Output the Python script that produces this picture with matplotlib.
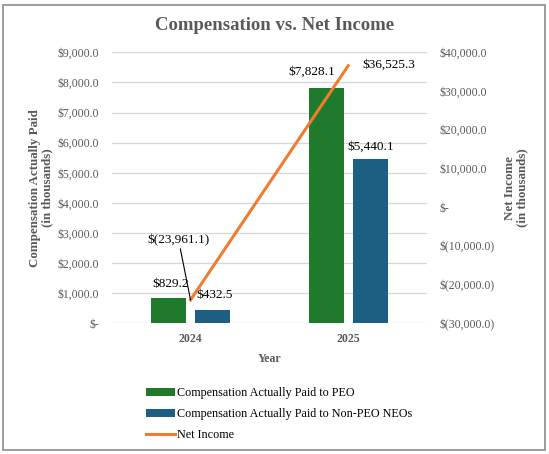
import matplotlib
matplotlib.use('Agg')
import matplotlib.pyplot as plt
from matplotlib.ticker import FuncFormatter, MultipleLocator
from matplotlib.patches import Rectangle

plt.rcParams['font.family'] = ['Liberation Serif', 'DejaVu Serif']

years = ['2024', '2025']
cap_peo = [829.2, 7828.1]
cap_neo = [432.5, 5440.1]
net_income = [-23961.1, 36525.3]

GREEN = '#1f7a2c'
BLUE = '#1c5f82'
ORANGE = '#ed7d31'
GRAY = '#595959'
GRID = '#d4d6dc'


def money(v, pos=None):
    if abs(v) < 1e-6:
        return '$-'
    if v < 0:
        return '$({:,.1f})'.format(-v)
    return '${:,.1f}'.format(v)


fig = plt.figure(figsize=(5.49, 4.54), dpi=100)
ax = fig.add_axes([0.2035, 0.2879, 0.5743, 0.5969])
ax2 = ax.twinx()

x = list(range(len(years)))
w = 0.222
off = 0.139
b1 = ax.bar([i - off for i in x], cap_peo, w, color=GREEN, label='Compensation Actually Paid to PEO', zorder=2)
b2 = ax.bar([i + off for i in x], cap_neo, w, color=BLUE, label='Compensation Actually Paid to Non-PEO NEOs', zorder=2)
ln, = ax2.plot(x, net_income, color=ORANGE, lw=2.2, label='Net Income', zorder=3)

ax.set_xlim(-0.5, 1.5)
ax.set_ylim(0, 9000)
ax2.set_ylim(-30000, 40000)
ax.yaxis.set_major_locator(MultipleLocator(1000))
ax2.yaxis.set_major_locator(MultipleLocator(10000))
ax.yaxis.set_major_formatter(FuncFormatter(money))
ax2.yaxis.set_major_formatter(FuncFormatter(money))
ax.grid(axis='y', color=GRID, lw=0.9, zorder=0)
ax.set_axisbelow(True)

for a in (ax, ax2):
    for s in a.spines.values():
        s.set_visible(False)
    a.tick_params(length=0, colors=GRAY, labelsize=8.5)

ax.tick_params(axis='y', pad=9)
ax2.tick_params(axis='y', pad=9)
ax.set_xticks(x)
ax.set_xticklabels(years, fontweight='bold', fontsize=8.6)
ax.tick_params(axis='x', pad=7)
ax.set_xlabel('Year', fontweight='bold', color=GRAY, fontsize=8.6, labelpad=6)
ax.set_ylabel('Compensation Actually Paid\n(in thousands)', fontweight='bold', color=GRAY,
              fontsize=9.4, labelpad=3, linespacing=1.0)
ax2.set_ylabel('Net Income\n(in thousands)', fontweight='bold', color=GRAY,
               fontsize=9.4, labelpad=7, linespacing=1.0)

fig.text(0.501, 1 - 25 / 454, 'Compensation vs. Net Income', ha='center', va='center',
         fontsize=13.5, fontweight='bold', color=GRAY)

# data labels
lab = dict(ha='center', va='center', fontsize=9.5, color='black', textcoords='offset pixels')
ax.annotate(money(cap_peo[0]), (x[0] - off, cap_peo[0]), xytext=(2, 14), **lab)
ax.annotate(money(cap_neo[0]), (x[0] + off, cap_neo[0]), xytext=(2, 15), **lab)
ax.annotate(money(cap_peo[1]), (x[1] - off, cap_peo[1]), xytext=(-15, 16), **lab)
ax.annotate(money(cap_neo[1]), (x[1] + off, cap_neo[1]), xytext=(1, 13), **lab)
ax2.annotate(money(net_income[1]), (x[1], net_income[1]), xytext=(41, 1), **lab)
ax2.annotate(money(net_income[0]), (x[0], net_income[0]), xytext=(-12, 60),
             arrowprops=dict(arrowstyle='-', color='black', lw=0.8, shrinkA=0, shrinkB=0),
             **lab)

fig.legend(handles=[b1, b2, ln], loc='upper left', bbox_to_anchor=(146 / 549, 1 - 387 / 454),
           frameon=False, fontsize=8.7, handlelength=2.4, handleheight=0.6,
           handletextpad=0.15, labelspacing=0.75, borderaxespad=0, borderpad=0)

fig.patches.append(Rectangle((3 / 549, 4 / 454), 542 / 549, 445 / 454, transform=fig.transFigure,
                             fill=False, edgecolor='#8c8c8c', lw=1.2))

fig.savefig('out.png', dpi=100)
